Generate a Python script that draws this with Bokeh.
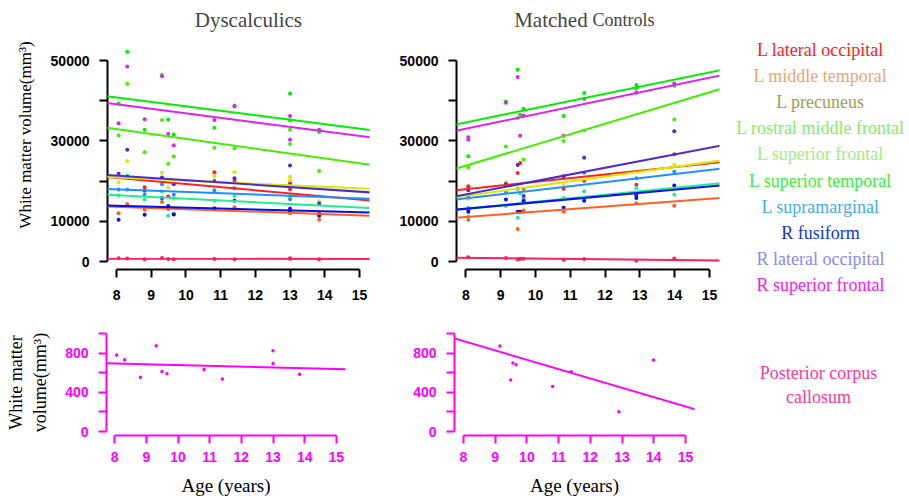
from bokeh.plotting import figure
from bokeh.models import Range1d, FixedTicker, Slope, Label
from bokeh.layouts import row, column
from bokeh.embed import file_html
from bokeh.resources import INLINE
from bokeh.core.properties import value

nan = float("nan")

# ---------------- data ----------------
ages_dys = [8.06, 8.31, 8.81, 9.31, 9.49, 9.65, 10.82, 11.40, 13.0, 13.0, 13.84]
ages_ctl = [8.07, 8.07, 9.15, 9.49, 9.56, 9.66, 10.81, 11.40, 12.90, 12.90, 13.99]

regions = ["L lateral occipital", "L middle temporal", "L precuneus",
           "L rostral middle frontal", "L superior frontal", "L superior temporal",
           "L supramarginal", "R fusiform", "R lateral occipital", "R superior frontal"]
legend_colors = ["#ff2020", "#f4a36e", "#9e9e4f", "#7ef05c", "#9cf07e", "#3cee3c",
                 "#45aaf5", "#1033dd", "#8a8af0", "#ee22ee"]
line_colors = ["#ff2020", "#ff6020", "#dde800", "#44ee00", "#00ee00", "#1ef08c",
               "#1e90ff", "#0010ee", "#4b2bd0", "#dd22ee"]
cc_label = ["Posterior corpus", "callosum"]
cc_legend_color = "#ff3b93"
cc_top_color = "#ff1f5a"
cc_bottom_color = "#ff00ff"

# Dyscalculics, white matter volume (mm3), one value per subject in ages_dys
dys_l_lateral_occipital = [nan, nan, 18500, nan, 16200, 11800, 22200, 20000, 19500, 18000, 12000]
dys_l_middle_temporal = [12000, 14300, 12900, 14800, nan, nan, 13300, 13500, 12000, nan, 10400]
dys_l_precuneus = [19700, 25000, nan, 22100, 18400, 15600, 21300, 22200, 21100, 20200, 15000]
dys_l_rostral_middle_frontal = [31400, 44200, 27200, 35200, 24300, 26100, 28300, 28200, 32800, 29200, 22500]
dys_l_superior_frontal = [39300, 52200, 32800, 46400, 35300, 31600, 33300, 38800, 41800, 35100, 32200]
dys_l_superior_temporal = [16400, 21400, 15400, 17400, 11400, 11800, 15100, 16300, 16300, nan, nan]
dys_l_supramarginal = [17900, 17900, 16600, 19200, nan, 16600, 17700, 18200, 15500, nan, nan]
dys_r_fusiform = [10400, 21000, 11600, 15800, 13800, 11700, 13100, 15100, 13100, 12500, 11400]
dys_r_lateral_occipital = [21800, 27800, 17600, 20900, 13100, 19200, 20000, 20700, 23900, 19000, 14400]
dys_r_superior_frontal = [34400, 48500, 35400, 46100, 31700, 28900, 35200, 38600, 36200, 30300, 32800]
cc_dys = [779, 731, 553, 875, 611, 590, 632, 536, 824, 693, 584]

# Matched controls, one value per subject in ages_ctl
ctl_l_lateral_occipital = [18700, 18300, nan, 22000, 24500, 18100, 18100, 20100, 19100, nan, 26700]
ctl_l_middle_temporal = [10400, nan, 13900, 8100, nan, 12700, 12400, nan, 14500, nan, 13900]
ctl_l_precuneus = [15600, nan, 19700, nan, nan, nan, 19300, nan, nan, nan, 24100]
ctl_l_rostral_middle_frontal = [23400, nan, 28600, 35700, nan, 25400, 30000, 32600, 43000, nan, 35300]
ctl_l_superior_frontal = [26200, nan, 39800, 47700, 36500, 38000, 36200, 41900, 43900, 43200, 43700]
ctl_l_superior_temporal = [13400, 11200, 13900, 10900, 17000, nan, 15800, 17500, 18300, nan, 16600]
ctl_l_supramarginal = [nan, nan, 17200, 18100, nan, 15400, nan, 22100, 20700, nan, 22300]
ctl_r_fusiform = [12900, 12400, 15400, 12400, 12400, 15000, 13400, 15100, 16400, 15800, 18900]
ctl_r_lateral_occipital = [17700, 16500, 19300, 24000, nan, 16300, 21200, 25800, 16800, nan, 32400]
ctl_r_superior_frontal = [30900, 30300, 39500, 45900, 31300, 36300, 31300, 40500, 42000, nan, 44300]
cc_ctl = [1070, nan, 871, 525, 698, 681, 458, 610, 203, nan, 729]

# regression lines read at age 8 and at age 15 (same order as regions)
dys_fit_age8 = [20800, 13620, 20900, 32930, 40810, 16490, 17920, 13840, 21350, 39110]
dys_fit_age15 = [15400, 11490, 18200, 24450, 33070, 13430, 15690, 12270, 17370, 31230]
ctl_fit_age8 = [17970, 11090, 16340, 23850, 34610, 13150, 15690, 13130, 16680, 33020]
ctl_fit_age15 = [24410, 15600, 24730, 42090, 47050, 19230, 22790, 18660, 28290, 45740]
cc_dys_fit = [695, 637]
cc_ctl_fit = [922, 256]

x_ticks = [8, 9, 10, 11, 12, 13, 14, 15]
top_y_ticks = [0, 10000, 20000, 30000, 40000, 50000]
top_y_hidden = [20000, 40000]
bot_y_ticks = [0, 200, 400, 600, 800, 1000]
bot_y_hidden = [200, 600, 1000]

dys_series = [dys_l_lateral_occipital, dys_l_middle_temporal, dys_l_precuneus,
              dys_l_rostral_middle_frontal, dys_l_superior_frontal, dys_l_superior_temporal,
              dys_l_supramarginal, dys_r_fusiform, dys_r_lateral_occipital, dys_r_superior_frontal]
ctl_series = [ctl_l_lateral_occipital, ctl_l_middle_temporal, ctl_l_precuneus,
              ctl_l_rostral_middle_frontal, ctl_l_superior_frontal, ctl_l_superior_temporal,
              ctl_l_supramarginal, ctl_r_fusiform, ctl_r_lateral_occipital, ctl_r_superior_frontal]

SERIF = "Liberation Serif"
SANS = "Liberation Sans"


def make_panel(width, height, xr, yr, bl, br, bt, bb):
    p = figure(width=width, height=height, x_range=Range1d(*xr), y_range=Range1d(*yr),
               output_backend="svg", toolbar_location=None,
               min_border_left=bl, min_border_right=br, min_border_top=bt, min_border_bottom=bb)
    p.outline_line_color = None
    p.xgrid.visible = False
    p.ygrid.visible = False
    return p


def style_axes(p, yticks, yhidden, color, xstandoff):
    for ax in (p.xaxis[0], p.yaxis[0]):
        ax.axis_line_width = 2
        ax.axis_line_color = color
        ax.major_tick_line_width = 2
        ax.major_tick_line_color = color
        ax.major_tick_in = 0
        ax.major_tick_out = 8
        ax.minor_tick_line_color = None
        ax.major_label_text_font = SANS
        ax.major_label_text_font_style = "bold"
        ax.major_label_text_font_size = "14px"
        ax.major_label_text_color = color
        ax.axis_label_text_font = SERIF
        ax.axis_label_text_font_style = "normal"
        ax.axis_label_text_color = "black"
    p.xaxis[0].ticker = FixedTicker(ticks=x_ticks)
    p.xaxis[0].bounds = (x_ticks[0], x_ticks[-1])
    p.xaxis[0].major_label_standoff = xstandoff
    p.yaxis[0].ticker = FixedTicker(ticks=yticks)
    p.yaxis[0].bounds = (yticks[0], yticks[-1])
    p.yaxis[0].major_label_overrides = {t: "" for t in yhidden}
    p.yaxis[0].major_label_standoff = 10


def add_fit(p, v8, v15, color, width=2):
    g = (v15 - v8) / 7.0
    p.add_layout(Slope(gradient=g, y_intercept=v8 - g * 8, line_color=color, line_width=width))


def top_panel(p, ages, series, fit8, fit15, cc, cc_fit):
    for vals, col in zip(series, line_colors):
        p.scatter(ages, vals, size=4, color=col, line_color=None)
    p.scatter(ages, cc, size=4, color=cc_top_color, line_color=None)
    for a, b, col in zip(fit8, fit15, line_colors):
        add_fit(p, a, b, col)
    add_fit(p, cc_fit[0], cc_fit[1], cc_top_color)


# ---------------- top left: Dyscalculics ----------------
p_tl = make_panel(380, 305, (7.74, 15.29), (-1990, 64930), 107, 11, 0, 36)
style_axes(p_tl, top_y_ticks, top_y_hidden, "black", 12)
p_tl.yaxis[0].axis_label = "White matter volume(mm³)"
p_tl.yaxis[0].axis_label_text_font_size = "17px"
p_tl.yaxis[0].axis_label_standoff = 13
top_panel(p_tl, ages_dys, dys_series, dys_fit_age8, dys_fit_age15, cc_dys, cc_dys_fit)
p_tl.add_layout(Label(x=11.80, y=60200, text="Dyscalculics", text_font=SERIF,
                      text_font_size="21px", text_align="center", text_baseline="alphabetic"))

# ---------------- top right: Matched Controls ----------------
p_tr = make_panel(340, 305, (7.73, 15.29), (-1990, 64930), 76, 1, 0, 36)
style_axes(p_tr, top_y_ticks, top_y_hidden, "black", 12)
top_panel(p_tr, ages_ctl, ctl_series, ctl_fit_age8, ctl_fit_age15, cc_ctl, cc_ctl_fit)
p_tr.add_layout(Label(x=11.50, y=60200, text="Matched", text_font=SERIF,
                      text_font_size="21px", text_align="right", text_baseline="alphabetic"))
p_tr.add_layout(Label(x=11.64, y=60200, text="Controls", text_font=SERIF,
                      text_font_size="18px", text_align="left", text_baseline="alphabetic"))

# ---------------- bottom left ----------------
p_bl = make_panel(380, 193, (7.74, 15.29), (-40, 1040), 106, 35, 24, 63)
style_axes(p_bl, bot_y_ticks, bot_y_hidden, cc_bottom_color, 8)
p_bl.yaxis[0].axis_label = "White matter\nvolume(mm³)"
p_bl.yaxis[0].axis_label_text_font_size = "18px"
p_bl.yaxis[0].axis_label_standoff = 12
p_bl.xaxis[0].axis_label = "Age (years)"
p_bl.xaxis[0].axis_label_text_font_size = "19px"
p_bl.xaxis[0].axis_label_standoff = 10
p_bl.scatter(ages_dys, cc_dys, size=3.5, color=cc_bottom_color, line_color=None)
add_fit(p_bl, cc_dys_fit[0], cc_dys_fit[1], cc_bottom_color)

# ---------------- bottom right ----------------
p_br = make_panel(340, 193, (7.72, 15.28), (-40, 1040), 74, 26, 24, 63)
style_axes(p_br, bot_y_ticks, bot_y_hidden, cc_bottom_color, 8)
p_br.xaxis[0].axis_label = "Age (years)"
p_br.xaxis[0].axis_label_text_font_size = "19px"
p_br.xaxis[0].axis_label_standoff = 10
p_br.scatter(ages_ctl, cc_ctl, size=3.5, color=cc_bottom_color, line_color=None)
add_fit(p_br, cc_ctl_fit[0], cc_ctl_fit[1], cc_bottom_color)

# ---------------- legend column ----------------
p_leg = figure(width=189, height=498, x_range=Range1d(0, 189), y_range=Range1d(498, 0),
               x_axis_type=None, y_axis_type=None, output_backend="svg", toolbar_location=None,
               min_border=0)
p_leg.outline_line_color = None
p_leg.xgrid.visible = False
p_leg.ygrid.visible = False
n = len(regions)
p_leg.text(x=[100] * n, y=[49 + 26.2 * i for i in range(n)], text=regions,
           text_color=legend_colors, text_font=value(SERIF), text_font_size="18px",
           text_align="center", text_baseline="middle")
p_leg.text(x=[98, 98], y=[372, 396], text=cc_label, text_color=cc_legend_color,
           text_font=value(SERIF), text_font_size="18px",
           text_align="center", text_baseline="middle")

layout = row(column(row(p_tl, p_tr), row(p_bl, p_br)), p_leg)

with open("out.html", "w") as f:
    f.write(file_html(layout, INLINE))
